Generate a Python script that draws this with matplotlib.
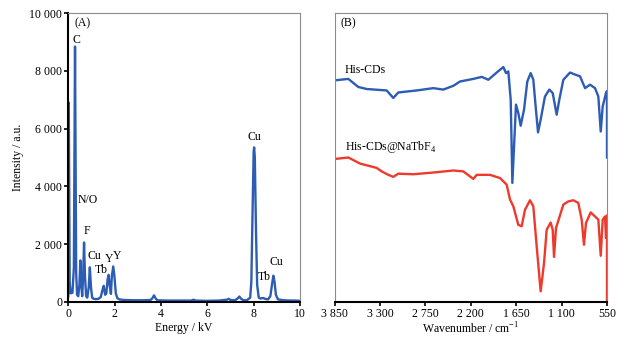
import numpy as np
import matplotlib
matplotlib.use("Agg")
from matplotlib import pyplot as plt

plt.rcParams['font.family'] = ['Liberation Serif', 'DejaVu Serif']
plt.rcParams['mathtext.fontset'] = 'custom'
plt.rcParams['mathtext.rm'] = 'Liberation Serif'
plt.rcParams['font.size'] = 8.5

# (A) EDS spectrum
energy = [0.0, 0.02, 0.06, 0.10, 0.18, 0.24, 0.29, 0.34, 0.38, 0.43, 0.48, 0.52,
          0.56, 0.60, 0.64, 0.68, 0.72, 0.77, 0.82, 0.88, 0.93, 0.98, 1.03, 1.10,
          1.20, 1.30, 1.40, 1.47, 1.53, 1.59, 1.64, 1.70, 1.74, 1.78, 1.84, 1.88,
          1.94, 1.99, 2.05, 2.12, 2.20, 2.40, 2.80, 3.20, 3.55, 3.62, 3.70, 3.78,
          3.85, 4.30, 4.80, 5.30, 5.40, 5.50, 6.00, 6.50, 6.85, 6.92, 7.00, 7.20,
          7.32, 7.38, 7.45, 7.55, 7.70, 7.85, 7.90, 7.95, 8.00, 8.02, 8.05, 8.10,
          8.15, 8.22, 8.30, 8.40, 8.50, 8.62, 8.72, 8.79, 8.85, 8.90, 8.96, 9.05,
          9.30, 9.60, 9.80, 10.0]
intensity = [200, 6900, 700, 300, 320, 1200, 8840, 1000, 250, 200, 600, 1440,
             600, 200, 900, 2060, 900, 200, 150, 500, 1200, 500, 150, 110,
             100, 110, 170, 400, 560, 250, 300, 800, 940, 600, 280, 900,
             1230, 900, 300, 130, 90, 70, 60, 60, 70, 120, 230, 110,
             60, 50, 50, 50, 80, 50, 40, 50, 80, 110, 70, 60,
             130, 190, 120, 60, 60, 150, 700, 3000, 5200, 5350, 5000, 2500,
             600, 150, 120, 140, 110, 90, 200, 600, 910, 700, 250, 90,
             60, 50, 50, 40]

eds_labels = ["(A)", "C", "N/O", "F", "Cu", "Tb", "Y", "Y", "Cu", "Tb", "Cu"]
eds_label_x = [0.62, 0.33, 0.86, 0.79, 1.12, 1.44, 1.74, 2.11, 8.04, 8.46, 8.96]
eds_label_y = [9650, 9080, 3540, 2440, 1600, 1120, 1490, 1600, 5710, 865, 1370]

# (B) FTIR spectra
wn_blue = [3846, 3685, 3564, 3462, 3220, 3140, 3079, 2856, 2655, 2534, 2413, 2331,
           2170, 2068, 1988, 1887, 1806, 1774, 1746, 1717, 1697, 1653, 1625, 1596,
           1556, 1516, 1475, 1443, 1411, 1386, 1354, 1302, 1249, 1208, 1160, 1128,
           1079, 998, 937, 877, 816, 756, 695, 655, 626, 602, 562, 550, 550]
t_blue = [76.7, 77.2, 74.4, 73.7, 73.2, 70.6, 72.5, 73.2, 74.0, 73.5, 74.8, 76.3,
          77.2, 77.9, 76.9, 79.4, 81.3, 79.2, 79.8, 70.0, 41.2, 68.3, 65.4, 61.0,
          66.5, 76.3, 79.2, 76.9, 66.5, 58.7, 63.1, 71.1, 73.5, 72.3, 64.8, 70.0,
          76.9, 79.4, 78.7, 78.1, 74.0, 75.2, 74.0, 71.1, 59.0, 67.7, 72.3, 73.0, 50.0]

wn_red = [3846, 3685, 3543, 3341, 3281, 3200, 3140, 3079, 2897, 2655, 2413, 2292,
          2170, 2129, 1968, 1847, 1766, 1725, 1685, 1625, 1584, 1544, 1483, 1443,
          1402, 1354, 1313, 1281, 1233, 1208, 1192, 1168, 1079, 1019, 958, 898,
          857, 829, 805, 748, 695, 655, 626, 602, 574, 562, 550, 550]
t_red = [49.5, 50.0, 47.9, 46.4, 45.2, 44.0, 43.3, 44.4, 44.2, 44.8, 45.5, 45.2,
         42.6, 44.0, 44.0, 42.9, 40.6, 35.4, 33.1, 26.7, 26.2, 31.9, 35.2, 33.1,
         19.2, 3.7, 13.5, 25.0, 27.5, 25.0, 15.6, 25.6, 33.7, 34.8, 35.2, 34.3,
         28.5, 19.8, 27.3, 31.0, 29.6, 28.5, 16.0, 28.5, 29.6, 22.1, 30.0, 0.0]

wn_ticks = [3850, 3300, 2750, 2200, 1650, 1100, 550]

blue = '#2D5CB4'
red = '#EE3A2C'
gray = '#8C8C8C'


def fmt(v):
    return '{:,}'.format(int(v)).replace(',', ' ')


fig = plt.figure(figsize=(6.26, 3.38), dpi=100)
ax1 = fig.add_axes([68.3 / 626, 36 / 338, 231.7 / 626, 289 / 338])
ax2 = fig.add_axes([334.7 / 626, 36 / 338, 272.3 / 626, 289 / 338])

# panel A
ax1.plot(energy, intensity, color=blue, linewidth=1.7)
ax1.set_xlim(0, 10)
ax1.set_ylim(0, 10000)
ax1.set_xticks(range(0, 11, 2))
yt = range(0, 10001, 2000)
ax1.set_yticks(list(yt))
ax1.set_yticklabels([fmt(v) for v in yt])
ax1.set_xlabel('Energy / kV', labelpad=1)
ax1.set_ylabel('Intensity / a.u.', labelpad=4)
for s, x, y in zip(eds_labels, eds_label_x, eds_label_y):
    ax1.text(x, y, s, ha='center', va='center')

# panel B
ax2.plot(wn_blue, t_blue, color=blue, linewidth=1.7)
ax2.plot(wn_red, t_red, color=red, linewidth=1.7)
ax2.set_xlim(3850, 550)
ax2.set_ylim(0, 100)
ax2.set_xticks(wn_ticks)
ax2.set_xticklabels([fmt(v) for v in wn_ticks])
ax2.set_yticks([])
ax2.set_xlabel('Wavenumber / cm$^{-1}$', labelpad=1)
ax2.text(3777, 96.5, '(B)', ha='left', va='center')
ax2.text(3725, 80.4, 'His-CDs', ha='left', va='center')
ax2.text(3725, 53.8, 'His-CDs@NaTbF$_4$', ha='left', va='center')

for ax in (ax1, ax2):
    for side in ('top', 'right', 'left'):
        ax.spines[side].set_color(gray)
        ax.spines[side].set_linewidth(0.8)
    ax.spines['bottom'].set_linewidth(1.5)
    ax.spines['bottom'].set_color('black')
    ax.tick_params(direction='out', length=3, width=1.2, pad=1.5, labelsize=8.5)
ax1.spines['left'].set_color('black')
ax1.spines['left'].set_linewidth(1.5)

fig.savefig('out.png', dpi=100)
